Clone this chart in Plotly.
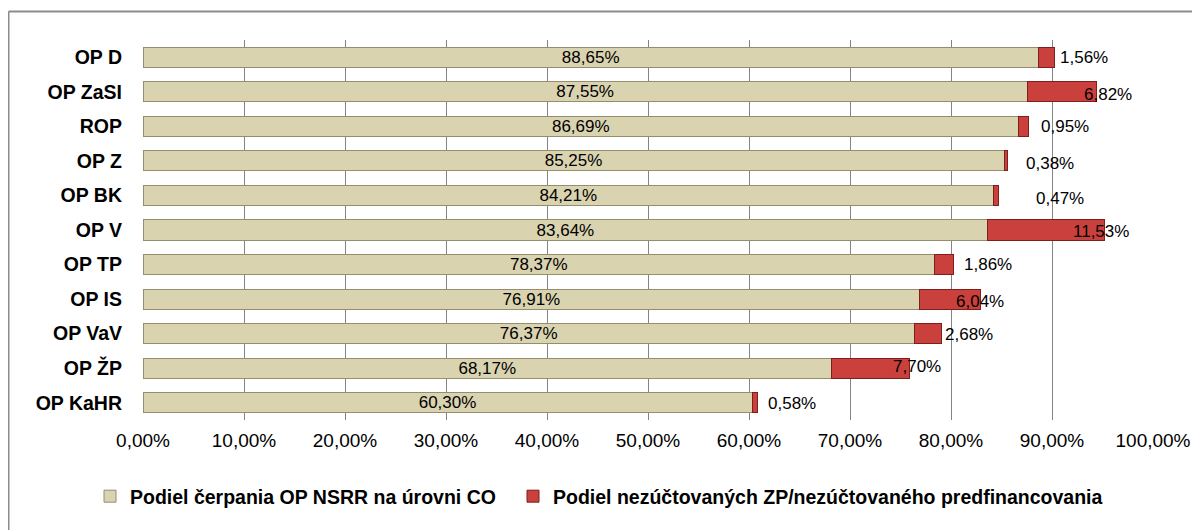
import plotly.graph_objects as go

# ---- data ----
categories = ["OP D", "OP ZaSI", "ROP", "OP Z", "OP BK", "OP V", "OP TP",
              "OP IS", "OP VaV", "OP ŽP", "OP KaHR"]
share_co = [88.65, 87.55, 86.69, 85.25, 84.21, 83.64, 78.37, 76.91, 76.37, 68.17, 60.30]
share_zp = [1.56, 6.82, 0.95, 0.38, 0.47, 11.53, 1.86, 6.04, 2.68, 7.70, 0.58]
x_ticks = [0, 10, 20, 30, 40, 50, 60, 70, 80, 90, 100]
series_names = ["Podiel čerpania OP NSRR na úrovni CO",
                "Podiel nezúčtovaných ZP/nezúčtovaného predfinancovania"]


def pct(v):
    return f"{v:.2f}".replace(".", ",") + "%"


x_tick_text = [pct(v) for v in x_ticks]

# ---- styling ----
FONT = "Liberation Sans, Arial, sans-serif"
label_xshift = [30, 12, 37, 42, 62, -3, 35, -1, 28, 8, 34]
label_yshift = [0, -3, 0, -3, -3, -1, 0, -2, -1, 2, -1]

# page body has an 8px margin; figure coords = page coords - 8
OFF = 8
W, H = 1192, 522
L, R, T, B = 135, 47, 32, 110
pw, ph = W - L - R, H - T - B


def px(page_x):
    return (page_x - OFF - L) / pw


def py(page_y):
    return (H - B - (page_y - OFF)) / ph


fig = go.Figure()
fig.add_trace(go.Bar(
    y=categories, x=share_co, orientation="h", name=series_names[0],
    marker=dict(color="#D9D3B0", line=dict(color="#958E6E", width=1)),
    text=[pct(v) for v in share_co], textposition="inside",
    insidetextanchor="middle", constraintext="none",
    textfont=dict(family=FONT, size=17, color="#000000"),
    legend="legend",
))
fig.add_trace(go.Bar(
    y=categories, x=share_zp, orientation="h", name=series_names[1],
    marker=dict(color="#C9403C", line=dict(color="#7E1F1C", width=1)),
    textposition="none",
    legend="legend2",
))

for i, (cat, a, b) in enumerate(zip(categories, share_co, share_zp)):
    fig.add_annotation(
        x=a + b, y=cat, xref="x", yref="y",
        text=pct(b),
        showarrow=False, xanchor="center", yanchor="middle",
        xshift=label_xshift[i], yshift=label_yshift[i],
        font=dict(family=FONT, size=17, color="#000000"),
    )

fig.add_shape(type="line", xref="paper", yref="paper",
              x0=px(8.5), x1=px(1200), y0=py(11.5), y1=py(11.5),
              line=dict(color="#8C8C8C", width=2))
fig.add_shape(type="line", xref="paper", yref="paper",
              x0=px(8.5), x1=px(8.5), y0=py(11.5), y1=py(530),
              line=dict(color="#8C8C8C", width=2))

legend_font = dict(family=FONT, size=19.5, color="#000000", weight="bold")

fig.update_layout(
    width=W, height=H,
    margin=dict(l=L, r=R, t=T, b=B, autoexpand=False),
    barmode="stack", bargap=0.42,
    plot_bgcolor="white", paper_bgcolor="white",
    showlegend=True,
    legend=dict(orientation="h", x=px(90), y=py(477), xanchor="left", yanchor="top",
                font=legend_font, itemwidth=30, bgcolor="rgba(0,0,0,0)"),
    legend2=dict(orientation="h", x=px(513), y=py(477), xanchor="left", yanchor="top",
                 font=legend_font, itemwidth=30, bgcolor="rgba(0,0,0,0)"),
    xaxis=dict(range=[0, 100], tickvals=x_ticks, ticktext=x_tick_text,
               showgrid=True, gridcolor="#858585", gridwidth=1, zeroline=False,
               showline=False, ticks="", ticklabelstandoff=7,
               tickfont=dict(family=FONT, size=19, color="#000000")),
    yaxis=dict(categoryorder="array", categoryarray=categories, autorange="reversed",
               showgrid=False, showline=False, ticks="", ticklabelstandoff=20,
               tickfont=dict(family=FONT, size=19.5, color="#000000", weight="bold")),
)

fig.write_html("out.html")
